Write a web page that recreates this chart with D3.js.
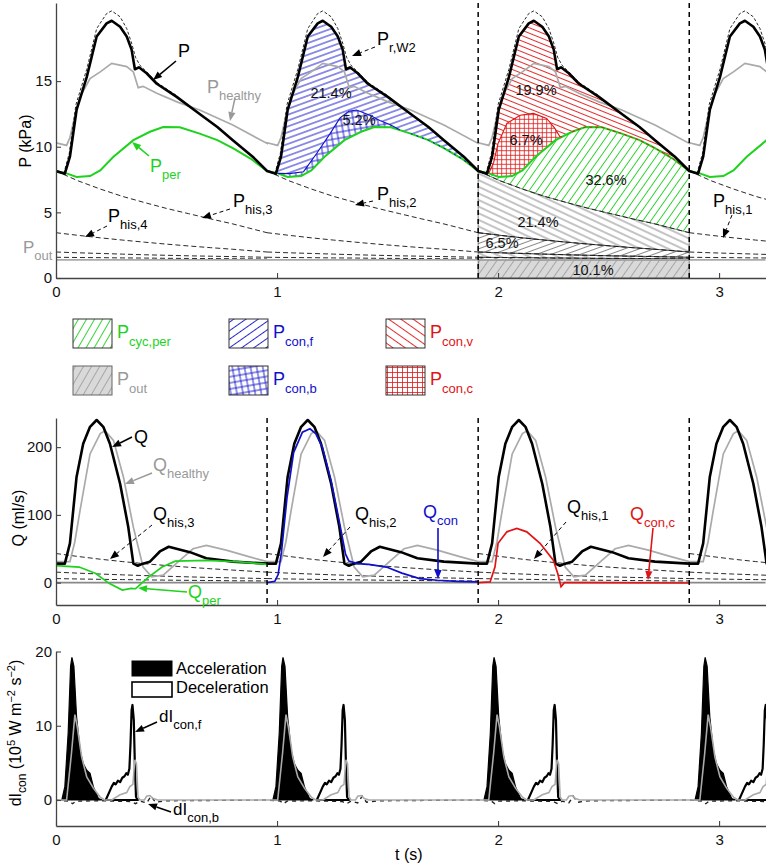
<!DOCTYPE html>
<html><head><meta charset="utf-8">
<script src="https://cdn.jsdelivr.net/npm/d3@7"></script>
<style>
body{margin:0;background:#fff}
svg{display:block}
text{font-family:"Liberation Sans",Arial,Helvetica,sans-serif}
</style>
</head><body>
<svg id="c" width="767" height="864"></svg>
<script>
// ---------------- DATA ----------------
const period = 0.955;                       // s, cardiac period
const cycleStarts = [0, 0.955, 1.91, 2.865];
const xTicks = [0, 1, 2, 3];
const pTicks = [0, 5, 10, 15];
const qTicks = [0, 100, 200];
const dTicks = [0, 10, 20];

// Pressure in one cycle (kPa), time within cycle (s)
const tauP  = [0, 0.04, 0.063, 0.093, 0.139, 0.184, 0.229, 0.252, 0.29, 0.32, 0.342, 0.357, 0.375, 0.41, 0.456, 0.546, 0.65, 0.73, 0.80, 0.89, 0.955];
const pVals = [8.15, 7.95, 9.24, 12.8, 15.3, 18.4, 19.4, 19.6, 19.14, 18.4, 17.4, 15.9, 16.05, 15.6, 14.8, 13.8, 12.5, 11.5, 10.5, 9.24, 8.15];
// P_r,W2 (dashed reservoir/windkessel fit)
const tauW  = [0.035, 0.06, 0.09, 0.139, 0.184, 0.229, 0.252, 0.29, 0.32, 0.342, 0.36, 0.38, 0.41, 0.456, 0.55];
const wVals = [7.95, 9.5, 13.2, 15.9, 19.0, 20.15, 20.35, 19.9, 19.0, 17.9, 16.8, 16.2, 15.7, 14.9, 13.85];
// P_healthy
const tauH  = [0, 0.048, 0.063, 0.085, 0.109, 0.154, 0.2, 0.252, 0.32, 0.35, 0.372, 0.394, 0.456, 0.55, 0.65, 0.80, 0.955];
const hVals = [10.3, 10.1, 10.7, 12.3, 13.8, 15.2, 15.7, 16.35, 16.1, 15.7, 14.5, 14.6, 14.07, 13.4, 12.8, 11.65, 10.25];
// P_per
const tauG  = [0, 0.048, 0.093, 0.154, 0.2, 0.26, 0.35, 0.425, 0.485, 0.56, 0.65, 0.73, 0.80, 0.88, 0.955];
const gVals = [8.15, 7.97, 7.7, 7.77, 8.2, 9.24, 10.5, 11.14, 11.5, 11.48, 11.0, 10.5, 9.9, 9.1, 8.15];
// upper boundary of P_con,b (cycle 2) and P_con,c (cycle 3)
const tauB  = [0.048, 0.1, 0.165, 0.225, 0.285, 0.33, 0.37, 0.405, 0.465, 0.51, 0.555, 0.6];
const bVals = [7.97, 7.95, 8.1, 9.5, 11.0, 12.2, 12.7, 12.8, 12.4, 12.0, 11.7, 11.3];
const tauR  = [0.048, 0.07, 0.09, 0.13, 0.19, 0.25, 0.31, 0.347, 0.37, 0.38];
const rVals = [7.97, 8.8, 10.26, 11.78, 12.4, 12.54, 12.16, 11.4, 10.76, 10.76];
// history pressures (four generations decaying through a cycle) and outflow pressure
const tauHis = [0, 0.1, 0.2, 0.3, 0.4, 0.5, 0.6, 0.7, 0.8, 0.955];
const pHis1 = [8.15, 7.4, 6.78, 6.22, 5.75, 5.3, 4.9, 4.5, 4.12, 3.45];
const pHis2 = [3.45, 3.25, 3.06, 2.89, 2.73, 2.58, 2.44, 2.31, 2.19, 1.98];
const pHis3 = [1.98, 1.92, 1.87, 1.82, 1.77, 1.73, 1.69, 1.66, 1.63, 1.58];
const pHis4 = [1.58, 1.56, 1.55, 1.53, 1.52, 1.5, 1.49, 1.48, 1.47, 1.45];
const pOut = 1.38;

// Flow (ml/s)
const tauQ  = [0, 0.04, 0.063, 0.093, 0.123, 0.154, 0.184, 0.214, 0.244, 0.29, 0.327, 0.35, 0.37, 0.385, 0.425, 0.47, 0.51, 0.606, 0.68, 0.80, 0.955];
const qVals = [28, 28, 58, 156, 205, 230, 240, 230, 205, 146, 82, 28, 25, 27, 31, 46, 53, 45, 36, 31, 28];
const tauQH = [0, 0.063, 0.085, 0.109, 0.154, 0.2, 0.222, 0.26, 0.305, 0.35, 0.394, 0.433, 0.485, 0.56, 0.62, 0.68, 0.77, 0.876, 0.955];
const qhVals = [31, 31, 60, 107, 190, 220, 224, 210, 156, 82, 23, 8.6, 11, 33, 50, 55, 48, 38, 31];
const tauQP = [0, 0.105, 0.18, 0.24, 0.3, 0.34, 0.36, 0.42, 0.48, 0.54, 0.68, 0.83, 0.955];
const qpVals = [25, 23, 13.5, -1, -11, -8.6, -9, 8.6, 23, 31.7, 33, 30.7, 27];
const tauQC = [0, 0.035, 0.05, 0.065, 0.09, 0.12, 0.16, 0.194, 0.22, 0.25, 0.29, 0.33, 0.355, 0.37, 0.41, 0.46, 0.54, 0.61, 0.69, 0.77, 0.86, 0.955];
const qcVals = [0, 2, 12, 45, 125, 192, 222, 227, 220, 200, 150, 85, 42, 32, 28, 27, 23, 14, 6, 3.5, 2, 1];
const tauQR = [0, 0.054, 0.076, 0.09, 0.13, 0.175, 0.22, 0.28, 0.34, 0.36, 0.375, 0.39, 0.5, 0.955];
const qrVals = [0, 1, 23, 58, 75, 80, 75, 58, 33, 13.6, -6, 0, 0, -0.5];
const qHis1 = [43, 38.6, 34.6, 31.1, 28.0, 25.2, 22.7, 20.5, 18.5, 15.5];
const qHis2 = [15.5, 14.0, 12.7, 11.5, 10.4, 9.4, 8.5, 7.7, 7.0, 6.0];
const qHis3 = [6.0, 5.4, 4.9, 4.5, 4.1, 3.7, 3.4, 3.1, 2.8, 2.5];

// Wave intensity dI_con (10^5 W m^-2 s^-2)
const tauAcc = [0.026, 0.04, 0.055, 0.066, 0.072, 0.081, 0.093, 0.109, 0.123, 0.139, 0.154, 0.169, 0.192, 0.21];
const accVals = [0, 1.8, 9, 18, 19.2, 18, 11.2, 6.7, 4.9, 4.0, 3.6, 1.8, 0.2, 0];
const tauDec = [0.225, 0.24, 0.252, 0.262, 0.27, 0.28, 0.29, 0.3, 0.31, 0.318, 0.325, 0.332, 0.337, 0.342, 0.346, 0.352, 0.357, 0.362, 0.37];
const decVals = [0, 1.0, 1.8, 2.3, 2.1, 2.6, 2.4, 3.0, 3.2, 3.6, 3.4, 4.2, 7.5, 12.1, 12.8, 10.8, 4.5, 0.4, 0];
const tauGr = [0, 0.048, 0.07, 0.0855, 0.096, 0.116, 0.139, 0.169, 0.2, 0.22, 0.252, 0.29, 0.32, 0.334, 0.348, 0.354, 0.357, 0.364, 0.371, 0.38, 0.40, 0.41, 0.425, 0.44, 0.46, 0.955];
const grVals = [0, 0, 6.3, 11.5, 9.9, 5.8, 3.1, 1.6, 0.4, 0, 0, 0.7, 1.0, 1.8, 2.1, 4.5, 5.4, 4.9, 0.4, 0, 0, 0.5, 0.6, 0.2, 0, 0];
const tauDb = [0, 0.06, 0.075, 0.09, 0.2, 0.34, 0.36, 0.38, 0.41, 0.43, 0.45, 0.5, 0.955];
const dbVals = [0, -0.15, -0.5, -0.15, -0.1, -0.2, -0.5, -0.15, -0.4, 0.5, -0.3, -0.1, 0];

// ---------------- SCALES ----------------
const svg = d3.select("#c");
const x  = d3.scaleLinear().domain([0, 3.21]).range([56, 765.5]);
const yP = d3.scaleLinear().domain([0, 20.95]).range([278, 3]);
const yQ = d3.scaleLinear().domain([-33, 243]).range([605, 418]);
const yD = d3.scaleLinear().domain([-3.5, 20]).range([826, 651.5]);

const GREEN = "#1ed21e", BLUE = "#1010cc", RED = "#e01414", GRAY = "#aaaaaa";

function series(tau, vals, start){ return tau.map((t,i)=>[start + t, vals[i]]); }
function periodic(tau, vals){ let o=[]; cycleStarts.forEach(s=>{ o = o.concat(series(tau, vals, s)); }); return o; }
const lineOf = ys => d3.line().x(d=>x(d[0])).y(d=>ys(d[1]));
const lP = lineOf(yP), lQ = lineOf(yQ), lD = lineOf(yD);
function poly(gen, up, low){ return gen(up.concat(low.slice().reverse())) + "Z"; }

// ---------------- PATTERNS ----------------
const defs = svg.append("defs");
function hatch(id, color, sp, ang, w, bg){
  const p = defs.append("pattern").attr("id", id).attr("patternUnits","userSpaceOnUse")
    .attr("width", sp).attr("height", sp).attr("patternTransform", `rotate(${ang})`);
  if (bg) p.append("rect").attr("width", sp).attr("height", sp).attr("fill", bg);
  p.append("line").attr("x1",0).attr("x2",sp).attr("y1",sp/2).attr("y2",sp/2)
    .attr("stroke", color).attr("stroke-width", w);
}
function grid(id, color, sp, ang, w){
  const p = defs.append("pattern").attr("id", id).attr("patternUnits","userSpaceOnUse")
    .attr("width", sp).attr("height", sp).attr("patternTransform", `rotate(${ang})`);
  p.append("line").attr("x1",0).attr("x2",sp).attr("y1",sp/2).attr("y2",sp/2).attr("stroke",color).attr("stroke-width",w);
  p.append("line").attr("y1",0).attr("y2",sp).attr("x1",sp/2).attr("x2",sp/2).attr("stroke",color).attr("stroke-width",w);
}
hatch("pGreen", GREEN, 6.5, -55, 0.9);
hatch("pBlue", BLUE, 5.5, -20, 0.9);
grid("pBlueX", BLUE, 6, -10, 0.9);
hatch("pRed", RED, 5, 22, 0.9);
grid("pRedX", RED, 4.5, 0, 0.8);
hatch("pGrayA", "#555", 5, -20, 0.7);
hatch("pGrayB", "#555", 6, 25, 0.7);
hatch("pOut", "#999", 7, -55, 0.8, "#d9d9d9");
hatch("lGreen", GREEN, 7, -60, 0.9);
hatch("lBlue", BLUE, 7, -35, 0.9);
hatch("lRed", RED, 7, 35, 0.9);
grid("lBlueX", BLUE, 6, -10, 0.9);
grid("lRedX", RED, 5, 0, 0.8);
hatch("lOut", "#999", 7, -60, 0.8, "#d9d9d9");

function clip(id, y0, y1){
  defs.append("clipPath").attr("id", id).append("rect").attr("x", 56).attr("y", y0).attr("width", 710).attr("height", y1 - y0);
}
clip("cP", 0, 279); clip("cQ", 405, 606); clip("cD", 640, 827);

// ---------------- PANEL 1 : PRESSURE ----------------
const g1 = svg.append("g").attr("clip-path","url(#cP)");
const c2 = cycleStarts[1], c3 = cycleStarts[2], c4 = cycleStarts[3];

const his = [pHis1, pHis2, pHis3, pHis4].map(v => series(tauHis, v, c3));
const outLine = [[c3, pOut], [c3 + period, pOut]];
const zeroLine = [[c3, 0], [c3 + period, 0]];
const bandStroke = "#333";
g1.append("path").attr("d", poly(lP, outLine, zeroLine)).attr("fill","url(#pOut)").attr("stroke", bandStroke).attr("stroke-width",0.6);
g1.append("path").attr("d", poly(lP, his[3], outLine)).attr("fill","url(#pGrayA)").attr("stroke", bandStroke).attr("stroke-width",0.6);
g1.append("path").attr("d", poly(lP, his[2], his[3])).attr("fill","url(#pGrayB)").attr("stroke", bandStroke).attr("stroke-width",0.6);
g1.append("path").attr("d", poly(lP, his[1], his[2])).attr("fill","url(#pGrayA)").attr("stroke", bandStroke).attr("stroke-width",0.6);
g1.append("path").attr("d", poly(lP, his[0], his[1])).attr("fill","url(#pGrayB)").attr("stroke", bandStroke).attr("stroke-width",0.6);

// cycle 3 (green / red)
const green3 = series(tauG, gVals, c3);
const red3 = series(tauR, rVals, c3);
const P3 = series(tauP, pVals, c3);
g1.append("path").attr("d", poly(lP, green3, his[0])).attr("fill","url(#pGreen)");
const rT0 = tauR[0], rT1 = tauR[tauR.length-1];
const greenUnderRed = series(tauG, gVals, c3).filter(d => d[0]-c3 > rT0 && d[0]-c3 < rT1);
g1.append("path").attr("d", poly(lP, red3, greenUnderRed)).attr("fill","url(#pRedX)");
const lowR = series(tauG, gVals, c3).filter(d => d[0]-c3 <= rT0).concat(red3, series(tauG, gVals, c3).filter(d => d[0]-c3 > rT1));
g1.append("path").attr("d", poly(lP, P3, lowR)).attr("fill","url(#pRed)");

// cycle 2 (blue)
const blue2 = series(tauB, bVals, c2);
const P2 = series(tauP, pVals, c2);
const bT0 = tauB[0], bT1 = tauB[tauB.length-1];
const greenUnderBlue = series(tauG, gVals, c2).filter(d => d[0]-c2 > bT0 && d[0]-c2 < bT1);
g1.append("path").attr("d", poly(lP, blue2, greenUnderBlue)).attr("fill","url(#pBlueX)");
const lowB = series(tauG, gVals, c2).filter(d => d[0]-c2 <= bT0).concat(blue2, series(tauG, gVals, c2).filter(d => d[0]-c2 > bT1));
g1.append("path").attr("d", poly(lP, P2, lowB)).attr("fill","url(#pBlue)");

// history dashed lines (each generation drawn per cycle)
cycleStarts.forEach(s => {
  [pHis1, pHis2, pHis3, pHis4].forEach(v => {
    g1.append("path").attr("d", lP(series(tauHis, v, s))).attr("fill","none")
      .attr("stroke","#111").attr("stroke-width",0.9).attr("stroke-dasharray","5,3");
  });
});
g1.append("path").attr("d", lP([[0, pOut],[3.21, pOut]])).attr("fill","none").attr("stroke", GRAY).attr("stroke-width",1.8);
// healthy
g1.append("path").attr("d", lP(periodic(tauH, hVals))).attr("fill","none").attr("stroke", GRAY).attr("stroke-width",1.7);
// P_per
g1.append("path").attr("d", lP(periodic(tauG, gVals))).attr("fill","none").attr("stroke", GREEN).attr("stroke-width",2);
g1.append("path").attr("d", lP(blue2)).attr("fill","none").attr("stroke", BLUE).attr("stroke-width",1.1);
g1.append("path").attr("d", lP(series(tauG, gVals, c2).filter(d=>d[0]-c2 >= bT1))).attr("fill","none").attr("stroke", BLUE).attr("stroke-width",1).attr("stroke-dasharray","2,4");
g1.append("path").attr("d", lP(red3)).attr("fill","none").attr("stroke", RED).attr("stroke-width",1.1);
g1.append("path").attr("d", lP(series(tauG, gVals, c3).filter(d=>d[0]-c3 >= rT1))).attr("fill","none").attr("stroke", RED).attr("stroke-width",1).attr("stroke-dasharray","3,3");
// P_r,W2
cycleStarts.forEach(s => {
  g1.append("path").attr("d", lP(series(tauW, wVals, s))).attr("fill","none").attr("stroke","#111").attr("stroke-width",0.9).attr("stroke-dasharray","3,2");
});
// P
g1.append("path").attr("d", lP(periodic(tauP, pVals))).attr("fill","none").attr("stroke","#000").attr("stroke-width",2.6).attr("stroke-linejoin","round");
// cycle separators
[c3, c4].forEach(s => {
  svg.append("line").attr("x1", x(s)).attr("x2", x(s)).attr("y1", yP(20.95)).attr("y2", yP(0))
    .attr("stroke","#000").attr("stroke-width",1.5).attr("stroke-dasharray","5,4");
});

// ---------------- PANEL 2 : FLOW ----------------
const g2 = svg.append("g").attr("clip-path","url(#cQ)");
g2.append("path").attr("d", lQ([[0,0],[3.21,0]])).attr("stroke","#888").attr("stroke-width",1.6).attr("fill","none");
cycleStarts.forEach(s => {
  [qHis1, qHis2, qHis3].forEach(v => {
    g2.append("path").attr("d", lQ(series(tauHis, v, s))).attr("fill","none")
      .attr("stroke","#111").attr("stroke-width",0.9).attr("stroke-dasharray","5,3");
  });
});
g2.append("path").attr("d", lQ(periodic(tauQH, qhVals))).attr("fill","none").attr("stroke", GRAY).attr("stroke-width",1.7);
g2.append("path").attr("d", lQ(periodic(tauQ, qVals))).attr("fill","none").attr("stroke","#000").attr("stroke-width",2.6).attr("stroke-linejoin","round");
g2.append("path").attr("d", lQ(series(tauQP, qpVals, cycleStarts[0]))).attr("fill","none").attr("stroke", GREEN).attr("stroke-width",1.7);
g2.append("path").attr("d", lQ(series(tauQC, qcVals, c2))).attr("fill","none").attr("stroke", BLUE).attr("stroke-width",1.7);
g2.append("path").attr("d", lQ(series(tauQR, qrVals, c3))).attr("fill","none").attr("stroke", RED).attr("stroke-width",1.7);
[c2, c3, c4].forEach(s => {
  svg.append("line").attr("x1", x(s)).attr("x2", x(s)).attr("y1", yQ(243)).attr("y2", yQ(-33))
    .attr("stroke","#000").attr("stroke-width",1.5).attr("stroke-dasharray","5,4");
});

// ---------------- PANEL 3 : WAVE INTENSITY ----------------
const g3 = svg.append("g").attr("clip-path","url(#cD)");
const aD = d3.area().x(d=>x(d[0])).y0(yD(0)).y1(d=>yD(d[1]));
cycleStarts.forEach(s => {
  g3.append("path").attr("d", aD(series(tauAcc, accVals, s))).attr("fill","#000").attr("stroke","#000").attr("stroke-width",1.2);
  g3.append("path").attr("d", aD(series(tauDec, decVals, s))).attr("fill","#fff").attr("stroke","#000").attr("stroke-width",2.2).attr("stroke-linejoin","round");
});
g3.append("path").attr("d", lD(periodic(tauDb, dbVals))).attr("fill","none").attr("stroke","#222").attr("stroke-width",1.4).attr("stroke-dasharray","4,4");
g3.append("path").attr("d", lD(periodic(tauGr, grVals))).attr("fill","none").attr("stroke", GRAY).attr("stroke-width",1.6);

// ---------------- AXES ----------------
function styleAxis(g){
  g.selectAll(".domain").attr("stroke","#444").attr("stroke-width",1.3);
  g.selectAll(".tick line").attr("stroke","#444").attr("stroke-width",1.1);
  g.selectAll("text").attr("font-size",15).attr("fill","#111");
}
const fmt = d3.format("d");
[[yP, 278, pTicks], [yQ, 605, qTicks], [yD, 826, dTicks]].forEach(([ys, yb, ticks]) => {
  svg.append("g").attr("transform",`translate(56,0)`)
    .call(d3.axisLeft(ys).tickValues(ticks).tickSize(-5).tickSizeOuter(0).tickPadding(4).tickFormat(fmt)).call(styleAxis);
  svg.append("g").attr("transform",`translate(0,${yb})`)
    .call(d3.axisBottom(x).tickValues(xTicks).tickSize(-5).tickSizeOuter(0).tickPadding(8).tickFormat(fmt)).call(styleAxis);
});

// ---------------- TEXT / ANNOTATIONS ----------------
function lab(px, py, main, sub, color, size, subSize, dy, anchor){
  const t = svg.append("text").attr("x",px).attr("y",py).attr("fill",color).attr("font-size",size||18);
  if (anchor) t.attr("text-anchor", anchor);
  t.append("tspan").text(main);
  if (sub) t.append("tspan").attr("font-size",subSize||13).attr("dy",dy||7).text(sub);
  return t;
}
function arrow(x1,y1,x2,y2,color,dashed,w){
  const g = svg.append("g");
  const ang = Math.atan2(y2-y1, x2-x1), L = 9, W = 3.6;
  const bx = x2 - L*Math.cos(ang), by = y2 - L*Math.sin(ang);
  g.append("line").attr("x1",x1).attr("y1",y1).attr("x2",bx).attr("y2",by)
    .attr("stroke",color).attr("stroke-width",w||1.5).attr("stroke-dasharray", dashed ? "4,3" : null);
  g.append("path").attr("d",`M${x2},${y2}L${bx - W*Math.sin(ang)},${by + W*Math.cos(ang)}L${bx + W*Math.sin(ang)},${by - W*Math.cos(ang)}Z`).attr("fill",color);
}
// axis titles
svg.append("text").attr("transform","translate(31,141) rotate(-90)").attr("text-anchor","middle").attr("font-size",16).text("P (kPa)");
svg.append("text").attr("transform","translate(24,518) rotate(-90)").attr("text-anchor","middle").attr("font-size",16).text("Q (ml/s)");
const dt = svg.append("text").attr("transform","translate(21,733) rotate(-90)").attr("text-anchor","middle").attr("font-size",16);
dt.append("tspan").text("dI");
dt.append("tspan").attr("font-size",12).attr("dy",5).text("con");
dt.append("tspan").attr("dy",-5).text(" (10");
dt.append("tspan").attr("font-size",11).attr("dy",-6).text("5");
dt.append("tspan").attr("dy",6).text(" W m");
dt.append("tspan").attr("font-size",11).attr("dy",-6).text("−2");
dt.append("tspan").attr("dy",6).text(" s");
dt.append("tspan").attr("font-size",11).attr("dy",-6).text("−2");
dt.append("tspan").attr("dy",6).text(")");
svg.append("text").attr("x",395).attr("y",860).attr("font-size",16).text("t (s)");

// pressure annotations
lab(178, 57, "P", null, "#000");
arrow(176, 61, 153, 80, "#000", false, 1.6);
lab(207, 93, "P", "healthy", "#999");
arrow(235, 98, 230, 121, "#999", false, 1.5);
lab(150, 172, "P", "per", GREEN);
arrow(149, 156, 132, 142, GREEN, false, 1.6);
lab(233, 207, "P", "his,3", "#000");
arrow(230, 209, 202, 218, "#000", true, 1);
lab(108, 222, "P", "his,4", "#000");
arrow(107, 226, 85, 237, "#000", true, 1);
lab(23, 253, "P", "out", "#999", 17);
lab(377, 45, "P", "r,W2", "#000");
arrow(375, 47, 352, 56, "#000", true, 1);
lab(377, 200, "P", "his,2", "#000");
arrow(373, 201, 355, 205, "#000", true, 1);
lab(713, 207, "P", "his,1", "#000");
arrow(732, 215, 723, 238, "#000", true, 1);
[[331,98,"21.4%"],[359,125,"5.2%"],[536,95,"19.9%"],[526,145,"6.7%"],[606,185,"32.6%"],[538,227,"21.4%"],[502,248,"6.5%"],[593,275,"10.1%"]]
  .forEach(([px,py,t]) => svg.append("text").attr("x",px).attr("y",py).attr("text-anchor","middle").attr("font-size",14.5).attr("fill","#111").text(t));

// legend
const legend = [
  [73, 319, "lGreen", "cyc,per", GREEN, "#333"],
  [229, 319, "lBlue", "con,f", BLUE, "#333"],
  [386, 319, "lRed", "con,v", RED, "#333"],
  [73, 366, "lOut", "out", "#999", "#666"],
  [229, 366, "lBlueX", "con,b", BLUE, "#333"],
  [386, 366, "lRedX", "con,c", RED, "#333"]
];
legend.forEach(([lx, ly, pat, sub, col, bc]) => {
  svg.append("rect").attr("x",lx).attr("y",ly).attr("width",39).attr("height",29).attr("fill",`url(#${pat})`).attr("stroke",bc).attr("stroke-width",1);
  lab(lx + 44, ly + 19, "P", sub, col, 18, 13, 8);
});

// flow annotations
lab(134, 443, "Q", null, "#000");
arrow(132, 437, 112, 447, "#000", false, 1.6);
lab(153, 471, "Q", "healthy", "#999");
arrow(152, 473, 125, 484, "#999", false, 1.5);
lab(153, 520, "Q", "his,3", "#000");
arrow(152, 525, 110, 559, "#000", true, 1);
lab(188, 598, "Q", "per", GREEN);
arrow(187, 592, 138, 588, GREEN, false, 1.6);
lab(355, 520, "Q", "his,2", "#000");
arrow(350, 527, 323, 557, "#000", true, 1);
lab(423, 518, "Q", "con", BLUE);
arrow(438, 528, 438, 579, BLUE, false, 1.6);
lab(567, 513, "Q", "his,1", "#000");
arrow(566, 522, 534, 559, "#000", true, 1);
lab(630, 520, "Q", "con,c", RED);
arrow(653, 528, 648, 580, RED, false, 1.6);

// wave-intensity annotations
svg.append("rect").attr("x",132).attr("y",661).attr("width",40).attr("height",15).attr("fill","#000").attr("stroke","#000");
svg.append("rect").attr("x",132).attr("y",682).attr("width",40).attr("height",15).attr("fill","#fff").attr("stroke","#000").attr("stroke-width",1.6);
svg.append("text").attr("x",176).attr("y",674).attr("font-size",16.5).text("Acceleration");
svg.append("text").attr("x",176).attr("y",693).attr("font-size",16.5).text("Deceleration");
lab(159, 722, "dI", "con,f", "#000", 17, 13, 7);
arrow(157, 722, 135, 732, "#000", false, 1.6);
lab(173, 815, "dI", "con,b", "#000", 17, 13, 7);
arrow(171, 812, 148, 804, "#000", false, 1.6);
</script>
</body></html>
